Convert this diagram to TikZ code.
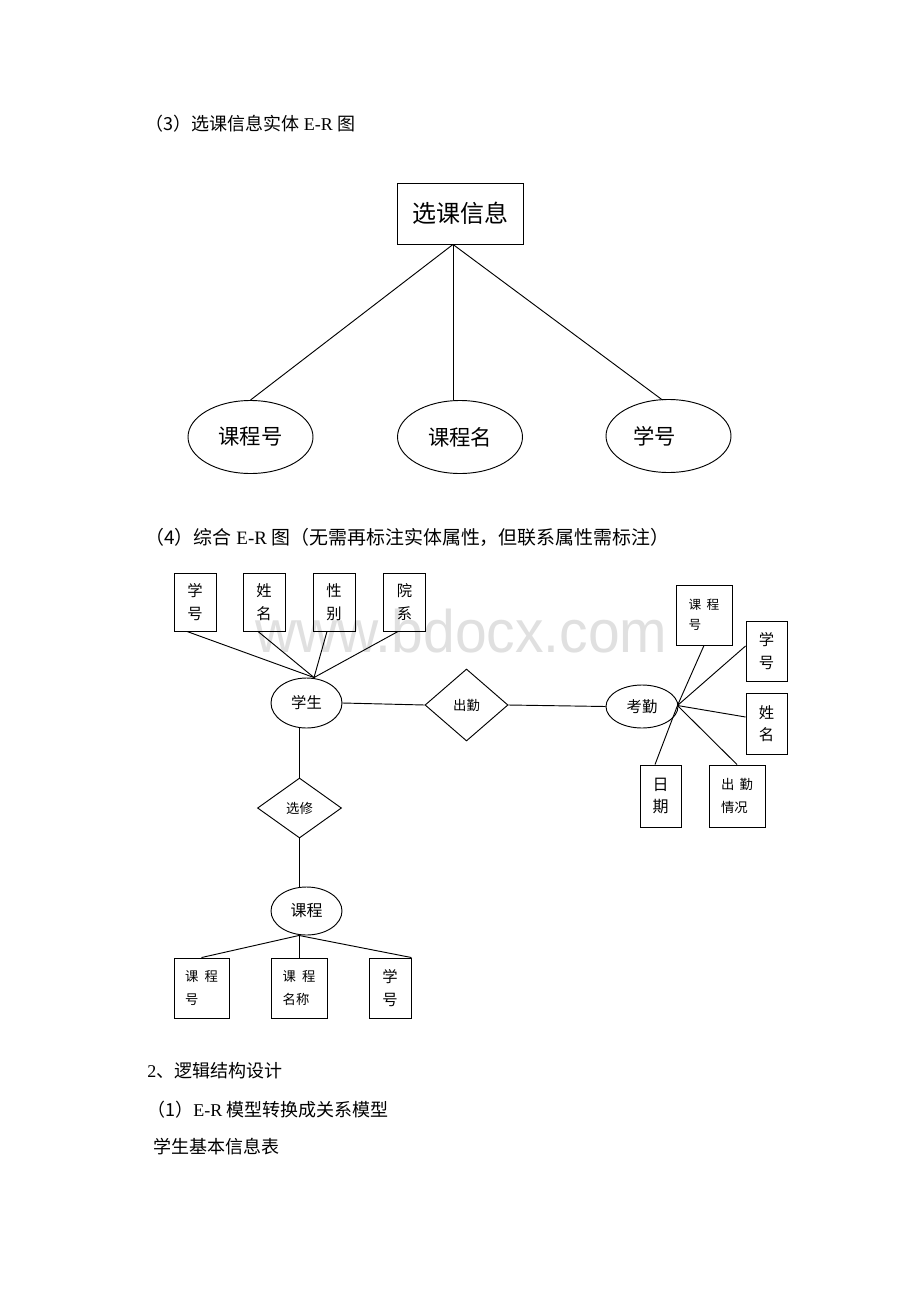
\documentclass[tikz,border=0pt]{standalone}
\usepackage{fontspec}
\setmainfont{Liberation Serif}
\newfontfamily\cjk{Noto Sans CJK SC}
\newfontfamily\wmfont{Liberation Sans}
\usetikzlibrary{shapes.geometric,calc}
\begin{document}
\begin{tikzpicture}[x=0.75pt,y=-0.75pt, line width=0.7pt,
  ent/.style={draw, rectangle, inner sep=0pt, align=center,
    font=\cjk\fontsize{11.5}{17}\selectfont},
  entl/.style={draw, rectangle, inner sep=0pt, align=left,
    font=\cjk\fontsize{9.5}{17}\selectfont},
  ell/.style={draw, ellipse, inner sep=0pt,
    font=\cjk\fontsize{11.5}{14}\selectfont},
  bigell/.style={draw, ellipse, inner sep=0pt, minimum width=93.75pt, minimum height=54.75pt,
    font=\cjk\fontsize{16}{18}\selectfont},
  rel/.style={draw, diamond, inner sep=0pt,
    font=\cjk\fontsize{10}{12}\selectfont},
  body/.style={anchor=west, inner sep=0pt, font=\fontsize{13.5}{16}\selectfont}
]
\useasboundingbox (0,0) rectangle (920,1302);
\fill[white] (0,0) rectangle (920,1302);

% watermark
\node[anchor=base west, inner sep=0pt, text=black!12, xscale=0.95,
  font=\wmfont\fontsize{45}{45}\selectfont] (wm) at (255,652) {www.bdocx.com};

% body text
\node[body] (h3) at (145,124) {{\cjk （3）选课信息实体} E-R {\cjk 图}};
\node[body, font=\fontsize{14.2}{16}\selectfont] (h4) at (145,537) {{\cjk （4）综合} E-R {\cjk 图（无需再标注实体属性，但联系属性需标注）}};
\node[body] (s2) at (147,1071) {2{\cjk 、逻辑结构设计}};
\node[body] (s21) at (147,1110) {{\cjk （1）}E-R {\cjk 模型转换成关系模型}};
\node[body] (s22) at (153,1147) {{\cjk 学生基本信息表}};

% ---- top diagram ----
\node[draw, inner sep=0pt, minimum width=94.5pt, minimum height=45.75pt,
  font=\cjk\fontsize{18}{20}\selectfont] (T) at (460,213.5) {选课信息};
\node[bigell] (E1) at (250.5,437) {课程号};
\node[bigell] (E2) at (460,437) {课程名};
\node[bigell, label={[xshift=-10.5pt, font=\cjk\fontsize{16}{18}\selectfont]center:学号}] (E3) at (668.5,436) {};
\coordinate (tj) at ($(T.south)+(-7,0)$);
\draw (tj) -- (E1.north);
\draw (tj) -- (tj |- E2.north);
\draw (tj) -- ($(E3.north)+(-6,1)$);

% ---- bottom diagram ----
\node[ent, minimum width=31.5pt, minimum height=43.5pt] (A1) at (195,602) {学\\号};
\node[ent, minimum width=31.5pt, minimum height=43.5pt] (A2) at (264,602) {姓\\名};
\node[ent, minimum width=31.5pt, minimum height=43.5pt] (A3) at (334,602) {性\\别};
\node[ent, minimum width=31.5pt, minimum height=43.5pt] (A4) at (404.5,602) {院\\系};
\node[ell, minimum width=53.25pt, minimum height=37.5pt] (S) at (306.5,703) {学生};
\coordinate (sj) at ($(S.north)+(7.5,0)$);
\draw ($(A1.south)+(-8,0)$) -- (sj);
\draw ($(A2.south)+(-6,0)$) -- (sj);
\draw ($(A3.south)+(-7,0)$) -- (sj);
\draw ($(A4.south)+(-6.5,0)$) -- (sj);

\node[rel, minimum width=62.25pt, minimum height=54pt] (D1) at (466.5,705) {出勤};
\node[ell, minimum width=54pt, minimum height=32.25pt] (K) at (642,706.5) {考勤};
\draw (S.east) -- (D1.west);
\draw (D1.east) -- (K.west);
\coordinate (kj) at ($(K.east)+(-1,-1)$);

\node[entl, minimum width=42pt, minimum height=45pt, font=\cjk\fontsize{9.5}{15}\selectfont] (R1) at (704,615) {课\hspace{4pt}程\\号};
\node[ent, minimum width=30.75pt, minimum height=45pt] (R2) at (766.5,651) {学\\号};
\node[ent, minimum width=30.75pt, minimum height=45.75pt] (R3) at (766.5,723.5) {姓\\名};
\node[ent, minimum width=30.75pt, minimum height=46.5pt, font=\cjk\fontsize{12}{16}\selectfont] (R4) at (660.5,796) {日\\期};
\node[entl, minimum width=42pt, minimum height=46.5pt, font=\cjk\fontsize{10}{17}\selectfont] (R5) at (737,796) {出\hspace{4pt}勤\\情况};
\draw (R1.south) -- (kj);
\draw ($(R2.west)+(0,-5)$) -- (kj);
\draw ($(R3.west)+(0,-6.5)$) -- (kj);
\draw ($(R4.north)+(-5.5,0)$) -- (kj);
\draw (R5.north) -- (kj);

\node[rel, minimum width=63pt, minimum height=45pt] (D2) at (299.5,808) {选修};
\node[ell, minimum width=53.25pt, minimum height=36pt, font=\cjk\fontsize{12}{14}\selectfont] (C) at (306.5,911) {课程};
\draw (D2.north) -- (D2.north |- S.south);
\draw (D2.south) -- (D2.south |- C.north);
\coordinate (cj) at ($(C.south)+(-7.5,0)$);

\node[entl, minimum width=41.25pt, minimum height=45pt, font=\cjk\fontsize{10}{17}\selectfont] (B1) at (201.5,988) {课\hspace{4.5pt}程\\号};
\node[entl, minimum width=42pt, minimum height=45pt, font=\cjk\fontsize{10}{17}\selectfont] (B2) at (299,988) {课\hspace{4.5pt}程\\名称};
\node[ent, minimum width=31.5pt, minimum height=45pt] (B3) at (390,988) {学\\号};
\draw (cj) -- (B1.north);
\draw (cj) -- (cj |- B2.north);
\draw (cj) -- (B3.north east);
\end{tikzpicture}
\end{document}
